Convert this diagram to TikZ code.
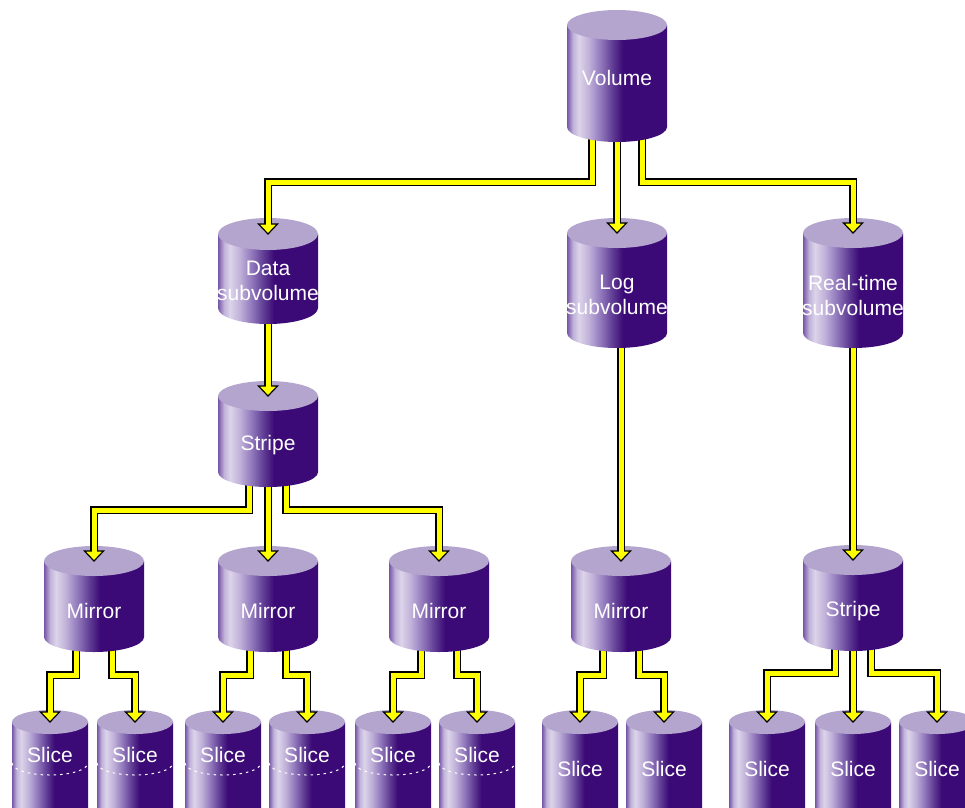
\documentclass[tikz,border=0pt]{standalone}
\usepackage{fontspec}
\setmainfont{Liberation Sans}
\usetikzlibrary{decorations.markings}
\definecolor{cylA}{HTML}{7656A6}
\definecolor{cylB}{HTML}{C0B2D9}
\definecolor{cylL}{HTML}{DCD4EA}
\definecolor{cylC}{HTML}{BFB0D8}
\definecolor{cylM}{HTML}{8F76BA}
\definecolor{cylN}{HTML}{5E3A93}
\definecolor{cylD}{HTML}{3B0A76}
\definecolor{cylT}{HTML}{B3A5CD}
\definecolor{connY}{HTML}{FFFF00}
\pgfdeclarehorizontalshading{cylshade}{100bp}{color(0bp)=(cylA); color(25bp)=(cylA); color(28bp)=(cylB); color(31bp)=(cylL); color(36bp)=(cylC); color(42bp)=(cylM); color(48bp)=(cylN); color(53bp)=(cylD); color(100bp)=(cylD)}
\pgfdeclarelayer{r4}\pgfdeclarelayer{c34}\pgfdeclarelayer{r3}\pgfdeclarelayer{c23}
\pgfdeclarelayer{r2}\pgfdeclarelayer{c12}\pgfdeclarelayer{r1}\pgfdeclarelayer{c01}\pgfdeclarelayer{r0}
\pgfsetlayers{r4,c34,r3,c23,r2,c12,r1,c01,r0,main}
\tikzset{
  cyltop/.style={fill=cylT},
  cyltext/.style={text=white, font=\fontsize{21}{25}\selectfont, align=center, inner sep=0pt},
  arrowhead/.style={fill=connY, draw=black, line width=1.2pt, line join=miter, shorten >=0pt},
  conn/.style={draw=black, line width=7.4pt, line join=miter, shorten >=10pt,
    preaction={decorate, decoration={markings, mark=at position 1 with {\filldraw[arrowhead] (0,0) -- (-10,9.5) -- (-10,-9.5) -- cycle;}}},
    postaction={draw=connY, line width=5pt, shorten >=9.2pt}},
  cutline/.style={draw=white, line width=1pt, dash pattern=on 2.5pt off 4pt},
}
% #1 layer, #2 name, #3 cx, #4 top centre y, #5 rx, #6 ry, #7 height, #8 text y, #9 text
\newcommand\cylnode[9]{%
  \begin{pgfonlayer}{#1}
    \shade[shading=cylshade] (#3-#5,#4) -- (#3-#5,#4+#7) arc[start angle=180,end angle=0,x radius=#5,y radius=#6] -- (#3+#5,#4) -- cycle;
    \fill[cyltop] (#3,#4) ellipse[x radius=#5,y radius=#6];
    \node[cyltext] (#2) at (#3,#8) {#9};
  \end{pgfonlayer}
  \coordinate (#2-t) at (#3,#4);
  \coordinate (#2-b) at (#3,#4+#7);
}
\newcommand\slicecut[1]{%
  \begin{pgfonlayer}{r4}
    \draw[cutline] (#1-38,763) arc[start angle=180,end angle=0,x radius=38,y radius=12];
  \end{pgfonlayer}
}
\begin{document}
\begin{tikzpicture}[x=1pt,y=-1pt]
\useasboundingbox (0,0) rectangle (965,807);
% row 0
\cylnode{r0}{vol}{617}{25}{50}{15}{102}{78}{Volume}
% row 1
\cylnode{r1}{data}{268}{234}{50}{16}{74}{281}{Data\\subvolume}
\cylnode{r1}{log}{617}{233}{50}{15}{100}{295}{Log\\subvolume}
\cylnode{r1}{rt}{853}{233}{50}{15}{100}{295}{Real-time\\subvolume}
% row 2
\cylnode{r2}{sL}{268}{396}{50}{15}{76}{445}{Stripe}
% row 3
\cylnode{r3}{m1}{94}{561}{50}{15}{76}{611}{Mirror}
\cylnode{r3}{m2}{268}{561}{50}{15}{76}{611}{Mirror}
\cylnode{r3}{m3}{439}{561}{50}{15}{76}{611}{Mirror}
\cylnode{r3}{m4}{621}{561}{50}{15}{76}{611}{Mirror}
\cylnode{r3}{sR}{853}{560}{50}{15}{76}{611}{Stripe}
% row 4
\cylnode{r4}{s1}{50}{722}{38}{12}{110}{755}{Slice}
\cylnode{r4}{s2}{135}{722}{38}{12}{110}{755}{Slice}
\cylnode{r4}{s3}{223}{722}{38}{12}{110}{755}{Slice}
\cylnode{r4}{s4}{307}{722}{38}{12}{110}{755}{Slice}
\cylnode{r4}{s5}{393}{722}{38}{12}{110}{755}{Slice}
\cylnode{r4}{s6}{477}{722}{38}{12}{110}{755}{Slice}
\cylnode{r4}{s7}{580}{722}{38}{12}{110}{769}{Slice}
\cylnode{r4}{s8}{664}{722}{38}{12}{110}{769}{Slice}
\cylnode{r4}{s9}{767}{722}{38}{12}{110}{769}{Slice}
\cylnode{r4}{s10}{853}{722}{38}{12}{110}{769}{Slice}
\cylnode{r4}{s11}{937}{722}{38}{12}{110}{769}{Slice}
\slicecut{50}\slicecut{135}\slicecut{223}\slicecut{307}\slicecut{393}\slicecut{477}
% connectors
\begin{pgfonlayer}{c01}
  \draw[conn] ([xshift=-25pt]vol-b) -- ++(0,55) -| (data-t);
  \draw[conn] (vol-b) -- (log-t);
  \draw[conn] ([xshift=25pt]vol-b) -- ++(0,55) -| (rt-t);
\end{pgfonlayer}
\begin{pgfonlayer}{c12}
  \draw[conn] (data-b) -- (sL-t);
\end{pgfonlayer}
\begin{pgfonlayer}{c23}
  \draw[conn] ([xshift=-19pt]sL-b) -- ++(0,38) -| (m1-t);
  \draw[conn] (sL-b) -- (m2-t);
  \draw[conn] ([xshift=18pt]sL-b) -- ++(0,38) -| (m3-t);
  \draw[conn] (log-b -| m4-t) -- (m4-t);
  \draw[conn] (rt-b) -- (sR-t);
\end{pgfonlayer}
\begin{pgfonlayer}{c34}
  \draw[conn] ([xshift=-18pt]m1-b) -- ++(0,38) -| (s1-t);
  \draw[conn] ([xshift=18pt]m1-b) -- ++(0,38) -| (s2-t);
  \draw[conn] ([xshift=-18pt]m2-b) -- ++(0,38) -| (s3-t);
  \draw[conn] ([xshift=18pt]m2-b) -- ++(0,38) -| (s4-t);
  \draw[conn] ([xshift=-18pt]m3-b) -- ++(0,38) -| (s5-t);
  \draw[conn] ([xshift=18pt]m3-b) -- ++(0,38) -| (s6-t);
  \draw[conn] ([xshift=-18pt]m4-b) -- ++(0,38) -| (s7-t);
  \draw[conn] ([xshift=18pt]m4-b) -- ++(0,38) -| (s8-t);
  \draw[conn] ([xshift=-18pt]sR-b) -- ++(0,37) -| (s9-t);
  \draw[conn] (sR-b) -- (s10-t);
  \draw[conn] ([xshift=18pt]sR-b) -- ++(0,37) -| (s11-t);
\end{pgfonlayer}
\end{tikzpicture}
\end{document}
